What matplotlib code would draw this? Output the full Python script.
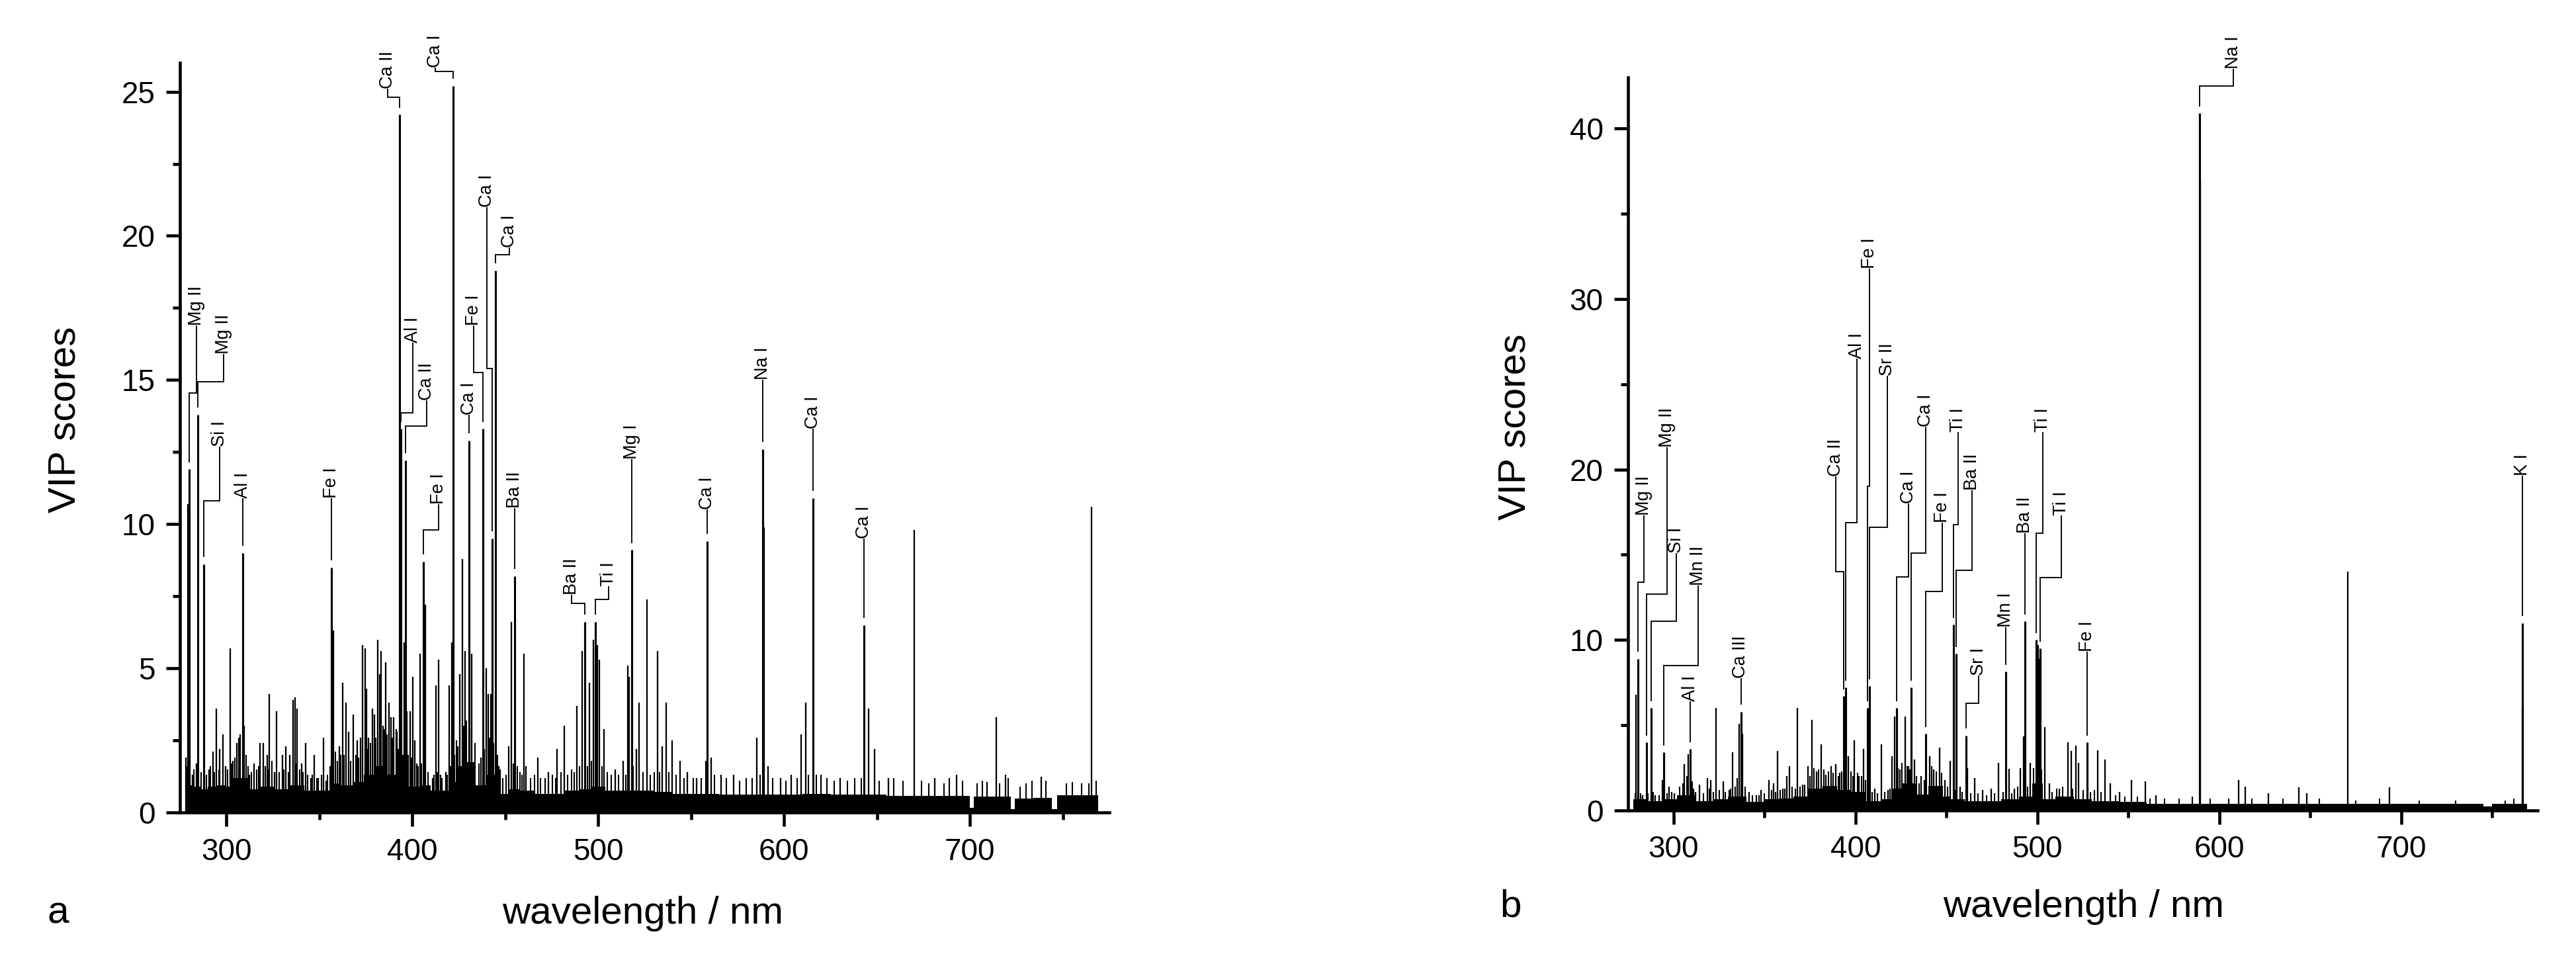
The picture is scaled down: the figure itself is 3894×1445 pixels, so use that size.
import numpy as np
import matplotlib
matplotlib.use('Agg')
import matplotlib.pyplot as plt
from matplotlib.ticker import MultipleLocator

plt.rcParams['font.family'] = ['Liberation Sans', 'DejaVu Sans']

# ---------------- panel a ----------------
# labelled lines: peak position / height, label position, elbow of the leader line
a_names = ['Mg II', 'Mg II', 'Si I', 'Al I', 'Fe I', 'Ca II', 'Al I', 'Ca II', 'Fe I', 'Ca I', 'Ca I',
           'Fe I', 'Ca I', 'Ca I', 'Ba II', 'Ba II', 'Ti I', 'Mg I', 'Ca I', 'Na I', 'Ca I', 'Ca I']
a_peak_nm = [280.0, 284.7, 287.9, 308.9, 356.5, 393.1, 394.0, 396.3, 405.8, 422.0, 430.4,
             438.0, 443.1, 444.9, 455.0, 492.9, 498.6, 518.1, 558.5, 588.4, 615.7, 643.0]
a_peak_vip = [11.9, 13.8, 8.6, 9.0, 8.5, 24.2, 13.3, 12.2, 8.7, 25.2, 12.9,
              13.3, 9.5, 18.8, 8.2, 6.6, 6.6, 9.1, 9.4, 12.6, 10.9, 6.5]
a_text_nm = [283.8, 298.4, 296.2, 308.9, 356.5, 386.8, 400.1, 407.7, 414.1, 412.2, 430.4,
             432.9, 440.2, 452.2, 455.0, 485.7, 505.6, 518.1, 558.5, 588.4, 615.7, 643.0]
a_text_vip = [16.9, 15.9, 12.7, 10.9, 10.9, 25.1, 16.3, 14.3, 10.7, 25.85, 13.8,
              16.9, 21.0, 19.6, 10.55, 7.55, 7.85, 12.25, 10.5, 15.0, 13.3, 9.5]
a_elbow_vip = [14.55, 14.95, 10.8, None, None, 24.8, 13.85, 13.4, 9.8, 25.7, None,
               15.25, 15.4, 19.35, None, 7.25, 7.4, None, None, None, None, None]

# other (unlabelled) emission lines
a_line_nm = [278.1, 279.1, 280.4, 281.9, 283.8, 290.8, 292.7, 294.6, 296.5, 298.1, 299.7, 301.9,
             303.5, 305.5, 306.8, 307.5, 309.6, 312.4, 315.0, 318.0, 319.8, 321.9, 323.2, 325.8,
             327.0, 330.0, 332.1, 334.0, 335.9, 336.8, 338.1, 340.4, 342.5, 345.5, 347.4, 349.3,
             352.1, 353.7, 357.5, 360.7, 362.4, 364.3, 365.8, 368.1, 370.3, 372.0, 373.2, 374.7,
             375.3, 376.6, 378.5, 379.8, 381.4, 382.3, 383.3, 384.2, 385.6, 387.4, 388.7, 390.0,
             391.2, 391.9, 395.7, 396.9, 398.8, 400.1, 401.4, 402.4, 404.2, 407.1, 410.9, 412.6,
             414.1, 416.0, 417.9, 419.8, 421.1, 424.3, 425.5, 426.8, 428.3, 431.9, 433.2, 437.0,
             439.8, 440.8, 442.3, 446.5, 447.1, 452.0, 453.2, 460.1, 461.1, 467.5, 473.2, 478.0,
             481.8, 488.6, 491.4, 495.4, 497.5, 499.5, 500.5, 503.2, 509.0, 513.6, 515.9, 516.8,
             520.6, 522.1, 526.3, 532.0, 534.3, 536.5, 539.9, 544.1, 548.0, 553.0, 560.8, 566.0,
             573.0, 585.2, 589.1, 591.5, 598.0, 604.0, 609.3, 611.5, 620.0, 630.0, 645.4, 648.7,
             656.0, 670.0, 681.0, 692.8, 709.1, 714.0, 719.1, 738.5, 765.4]
a_line_vip = [1.9, 10.7, 2.9, 1.3, 1.7, 1.5, 2.1, 3.6, 2.2, 2.7, 1.6, 5.7,
              1.8, 2.4, 2.6, 2.7, 3.0, 1.3, 1.7, 2.4, 2.4, 2.0, 4.1, 1.4,
              3.5, 2.0, 2.3, 2.0, 3.9, 4.0, 3.6, 1.7, 2.4, 1.2, 2.0, 1.2,
              2.6, 1.1, 6.3, 2.3, 4.5, 3.8, 2.8, 3.4, 2.5, 2.6, 5.8, 5.7,
              4.3, 2.6, 3.6, 3.4, 6.0, 4.8, 5.6, 3.0, 5.2, 3.8, 3.3, 3.3,
              2.9, 2.8, 5.9, 3.5, 3.5, 4.7, 2.5, 1.7, 5.5, 7.2, 1.2, 4.4,
              5.3, 1.2, 1.4, 4.4, 5.9, 2.3, 4.8, 8.8, 5.6, 5.5, 1.4, 1.9,
              5.0, 4.1, 4.1, 1.6, 1.5, 2.3, 6.6, 5.5, 1.6, 1.9, 1.4, 2.2,
              3.0, 3.7, 5.6, 4.5, 6.0, 5.8, 5.3, 2.9, 1.5, 1.8, 5.1, 4.7,
              2.2, 3.8, 7.4, 5.6, 2.3, 3.8, 2.5, 1.8, 1.4, 1.2, 1.9, 1.3,
              1.3, 2.6, 9.9, 1.6, 1.2, 1.3, 2.7, 3.8, 1.3, 1.2, 3.6, 2.2,
              1.2, 9.8, 1.2, 1.3, 1.05, 3.3, 1.3, 1.25, 10.6]

# small spikes sticking out of the noise floor
a_hair_nm = [278.8, 282.5, 286.5, 289.3, 291.5, 293.4, 296.0, 300.5, 302.8, 304.6, 310.5, 311.5,
             313.6, 316.2, 317.2, 320.8, 322.6, 324.5, 328.5, 331.0, 333.2, 337.3, 339.5, 341.2,
             343.8, 346.3, 348.5, 351.0, 354.5, 355.8, 358.8, 359.7, 361.3, 363.2, 366.8, 369.6,
             371.2, 376.0, 377.5, 380.5, 384.8, 386.3, 389.4, 392.5, 394.8, 397.6, 399.5, 403.2,
             405.0, 406.8, 408.5, 411.8, 413.3, 415.2, 418.6, 420.5, 422.8, 423.6, 427.5, 429.2,
             430.9, 433.8, 435.8, 438.8, 441.5, 443.8, 445.8, 448.5, 450.5, 454.2, 456.5, 457.8,
             459.0, 463.5, 465.8, 469.0, 471.5, 475.5, 477.0, 480.0, 483.5, 485.5, 487.0, 490.0,
             494.2, 496.5, 502.0, 505.0, 507.0, 511.0, 514.8, 518.9, 524.0, 528.0, 530.0, 533.0,
             538.0, 542.0, 546.0, 551.0, 555.5, 558.0, 562.5, 569.0, 576.0, 579.5, 583.0, 587.0,
             594.0, 601.0, 607.0, 613.0, 617.5, 623.0, 627.0, 634.0, 638.0, 641.5, 651.0, 659.0,
             664.0, 674.0, 678.0, 686.0, 689.0, 696.0, 704.0, 706.5, 716.0, 720.5, 727.0, 730.0,
             733.5, 741.0, 752.0, 755.0, 760.0, 764.0, 768.0]
a_hair_vip = [1.6, 1.5, 1.4, 1.3, 1.6, 1.4, 1.5, 1.5, 1.7, 1.9, 2.0, 1.6,
              1.4, 1.5, 1.6, 1.6, 1.5, 1.8, 1.4, 1.5, 1.4, 1.7, 1.5, 1.4,
              1.3, 1.3, 1.2, 1.3, 1.3, 1.6, 2.1, 1.8, 2.0, 2.0, 1.8, 2.0,
              1.9, 2.2, 2.4, 2.6, 2.9, 2.7, 2.6, 2.2, 2.0, 2.0, 1.9, 1.6,
              1.7, 1.6, 1.4, 1.3, 1.4, 1.3, 1.3, 1.6, 2.0, 2.5, 3.0, 3.2,
              2.8, 2.4, 1.7, 2.2, 2.6, 2.4, 2.0, 1.2, 1.3, 1.7, 1.6, 1.4,
              1.3, 1.2, 1.3, 1.2, 1.2, 1.3, 1.2, 1.4, 1.3, 1.5, 1.4, 1.6,
              1.6, 1.8, 1.6, 1.4, 1.3, 1.3, 1.3, 1.6, 1.4, 1.3, 1.4, 1.4,
              1.4, 1.3, 1.2, 1.2, 1.2, 1.8, 1.3, 1.2, 1.1, 1.2, 1.2, 1.3,
              1.2, 1.1, 1.2, 1.3, 1.3, 1.2, 1.1, 1.1, 1.2, 1.2, 1.1, 1.2,
              1.1, 1.1, 1.0, 1.0, 1.2, 1.1, 1.0, 1.1, 1.0, 1.2, 0.9, 1.0,
              1.1, 1.1, 1.0, 1.05, 1.0, 1.0, 1.1]

# dense noise floor, as steps
a_band_edges = [278, 282, 286, 290, 295, 300, 304, 312, 318, 326, 334, 342, 350, 356, 362, 368,
                374, 380, 386, 392, 398, 404, 410, 416, 420, 424, 428, 434, 440, 446, 452, 458,
                466, 474, 482, 490, 496, 504, 512, 520, 530, 540, 550, 565, 580, 595, 610, 625,
                640, 655, 670, 685, 700, 702, 712, 722, 724, 734, 744, 747, 757, 769]
a_band_vip = [0.95, 0.9, 0.8, 0.9, 0.95, 0.9, 1.2, 0.8, 0.9, 0.8, 0.95, 0.75, 0.75, 1.0, 0.95,
              1.05, 1.3, 1.6, 1.3, 1.2, 0.9, 0.95, 0.75, 0.75, 1.05, 1.6, 1.75, 0.95, 1.3, 0.65,
              0.8, 0.75, 0.65, 0.65, 0.75, 0.8, 0.9, 0.75, 0.75, 0.75, 0.72, 0.65, 0.65, 0.62, 0.62,
              0.62, 0.65, 0.62, 0.62, 0.58, 0.58, 0.58, 0.15, 0.55, 0.55, 0.12, 0.48, 0.5, 0.12,
              0.6, 0.6]

# ---------------- panel b ----------------
b_names = ['Mg II', 'Mg II', 'Si I', 'Mn II', 'Al I', 'Ca III', 'Ca II', 'Al I', 'Fe I', 'Sr II', 'Ca I',
           'Ca I', 'Fe I', 'Ti I', 'Ba II', 'Sr I', 'Mn I', 'Ba II', 'Ti I', 'Ti I', 'Fe I', 'Na I', 'K I']
b_peak_nm = [280.3, 285.1, 287.9, 294.8, 309.1, 337.0, 393.5, 394.8, 406.5, 407.8, 422.5,
             430.8, 438.6, 453.9, 455.2, 460.7, 482.8, 493.3, 499.2, 501.5, 527.4, 589.0, 766.5]
b_peak_vip = [8.9, 4.0, 6.0, 3.4, 3.6, 5.8, 6.7, 7.2, 6.0, 7.3, 6.0,
              7.2, 4.5, 10.9, 9.2, 4.4, 8.15, 11.1, 10.0, 9.5, 4.0, 40.9, 11.0]
b_text_nm = [283.8, 296.5, 301.7, 313.4, 309.1, 337.0, 389.0, 400.7, 407.8, 417.6, 429.2,
             438.6, 447.7, 456.5, 464.0, 467.6, 482.8, 493.3, 502.9, 513.3, 527.4, 607.6, 766.5]
b_text_vip = [17.3, 21.3, 15.1, 13.2, 6.4, 7.75, 19.6, 26.5, 31.8, 25.5, 18.0,
              22.5, 16.9, 22.2, 18.8, 7.9, 10.75, 16.25, 22.2, 17.3, 9.3, 43.5, 19.65]
b_elbow_vip = [13.4, 12.7, 11.1, 8.5, None, None, 14.0, 16.9, 19.0, 16.6, 13.7,
               15.1, 12.85, 16.75, 14.1, 6.3, None, None, 16.25, 13.65, None, 42.5, None]

b_line_nm = [279.5, 280.5, 283.0, 290.0, 294.0, 297.7, 300.6, 306.0, 308.0, 312.0, 314.4, 318.8,
             320.3, 323.4, 327.3, 330.8, 332.5, 336.2, 338.0, 341.6, 345.7, 348.1, 352.6, 355.1,
             357.2, 360.0, 362.2, 363.7, 368.2, 370.9, 374.0, 376.0, 378.7, 381.2, 383.8, 386.8,
             389.0, 391.5, 396.1, 399.4, 402.0, 404.6, 410.5, 414.3, 418.0, 420.1, 421.4, 424.5,
             427.3, 429.0, 432.5, 436.0, 440.9, 443.0, 446.1, 449.0, 452.0, 457.5, 461.7, 465.6,
             470.0, 474.5, 478.5, 484.3, 487.5, 490.5, 492.4, 496.1, 500.3, 500.9, 504.0, 506.7,
             512.0, 516.8, 518.5, 521.2, 522.6, 533.0, 537.1, 540.2, 545.0, 551.6, 559.3, 565.0,
             589.6, 610.7, 614.4, 627.0, 643.9, 648.0, 670.8, 693.6, 766.8]
b_line_vip = [6.8, 1.1, 0.9, 0.9, 1.8, 1.4, 1.0, 2.7, 3.3, 1.1, 1.5, 1.9,
              1.8, 6.0, 1.7, 1.2, 3.4, 5.1, 4.5, 1.1, 0.9, 1.2, 1.8, 1.6,
              3.5, 1.3, 2.0, 2.6, 6.0, 1.5, 2.6, 5.3, 2.3, 3.9, 2.1, 2.6,
              2.7, 2.2, 3.2, 4.1, 2.0, 3.6, 1.3, 3.9, 1.2, 3.2, 5.5, 2.4,
              5.5, 2.6, 3.0, 2.0, 3.2, 2.4, 3.7, 1.8, 2.9, 1.4, 2.5, 1.9,
              1.2, 1.3, 2.8, 2.45, 1.3, 2.5, 4.35, 2.8, 9.7, 8.9, 4.9, 1.6,
              1.3, 4.0, 3.5, 3.8, 2.8, 3.55, 3.0, 1.6, 1.1, 1.8, 1.7, 0.9,
              37.0, 1.8, 1.4, 1.0, 1.35, 1.0, 14.0, 1.35, 6.0]

b_hair_nm = [279.0, 282.0, 286.0, 288.8, 292.0, 296.5, 299.0, 303.5, 305.0, 307.2, 310.3, 311.0,
             316.5, 319.6, 322.0, 325.0, 328.5, 331.5, 334.0, 335.0, 339.5, 343.5, 347.0, 350.0,
             353.8, 356.0, 358.5, 361.2, 365.0, 367.0, 369.5, 372.0, 375.0, 377.2, 379.8, 382.5,
             385.2, 387.8, 390.5, 392.5, 397.5, 398.5, 401.0, 403.2, 405.5, 409.0, 412.0, 416.0,
             419.0, 423.5, 425.5, 428.5, 430.0, 433.5, 435.0, 438.0, 442.0, 444.5, 447.5, 450.5,
             454.5, 458.5, 463.5, 467.5, 472.0, 476.5, 481.0, 486.0, 489.0, 494.5, 498.0, 502.3,
             508.0, 510.5, 514.0, 519.5, 525.0, 529.0, 531.5, 535.0, 543.0, 548.0, 555.0, 562.0,
             570.0, 578.0, 585.0, 595.0, 605.0, 618.0, 635.0, 655.0, 675.0, 688.0, 710.0, 730.0,
             757.0, 762.0]
b_hair_vip = [1.0, 1.0, 1.0, 1.1, 0.9, 1.0, 1.1, 1.4, 1.6, 2.0, 1.7, 1.3,
              1.0, 1.3, 1.1, 1.2, 1.1, 1.3, 1.4, 1.9, 1.4, 0.9, 0.9, 1.0,
              1.2, 1.1, 1.2, 1.3, 1.4, 1.3, 1.4, 1.5, 2.0, 2.5, 2.4, 2.4,
              2.3, 2.2, 2.0, 2.3, 2.3, 2.0, 2.2, 2.0, 1.8, 1.1, 1.0, 1.1,
              1.3, 2.5, 2.8, 2.6, 2.4, 2.0, 1.6, 1.8, 2.6, 2.3, 2.2, 1.4,
              1.2, 1.1, 1.0, 1.0, 0.9, 1.0, 1.1, 1.0, 1.4, 1.4, 2.5, 2.4,
              1.1, 1.3, 1.4, 1.3, 1.2, 1.1, 1.2, 1.1, 0.9, 0.8, 0.8, 0.7,
              0.7, 0.7, 0.8, 0.7, 0.7, 0.7, 0.7, 0.7, 0.6, 0.7, 0.6, 0.6,
              0.6, 0.7]

b_band_edges = [278, 285, 295, 302, 312, 322, 330, 340, 350, 358, 366, 374, 382, 390, 398, 406,
                414, 420, 426, 434, 440, 448, 452, 460, 470, 480, 490, 497, 503, 510, 520, 530,
                545, 560, 588, 600, 650, 700, 745, 750, 769]
b_band_vip = [0.65, 0.55, 0.65, 0.9, 0.55, 0.65, 0.8, 0.5, 0.65, 0.7, 0.8, 1.3, 1.45, 1.2, 1.1,
              0.55, 0.65, 1.3, 1.6, 0.95, 1.45, 0.8, 0.65, 0.55, 0.55, 0.65, 0.8, 1.6, 0.65, 0.8,
              0.65, 0.55, 0.5, 0.4, 0.4, 0.4, 0.38, 0.38, 0.25, 0.38]

W, H = 3894, 1445


def draw_panel(ax, band_edges, band_vip, hair_nm, hair_vip, line_nm, line_vip,
               names, pk_nm, pk_vip, tx_nm, tx_vip, el_vip, gap):
    ax.stairs(band_vip, band_edges, fill=True, color='black', baseline=0, lw=0)
    ax.vlines(hair_nm, 0, hair_vip, color='black', lw=0.5)
    ax.vlines(line_nm, 0, line_vip, color='black', lw=0.55)
    ax.vlines(pk_nm, 0, pk_vip, color='black', lw=0.75)

    for name, pn, pv, tn, tv, ev in zip(names, pk_nm, pk_vip, tx_nm, tx_vip, el_vip):
        y0 = pv + gap
        if ev is None:
            xs, ys = [pn, pn], [y0, tv]
        else:
            xs, ys = [pn, pn, tn, tn], [y0, ev, ev, tv]
        ax.plot(xs, ys, color='black', lw=0.45, clip_on=False,
                solid_capstyle='butt', solid_joinstyle='miter')
        ax.text(tn, tv, name, rotation=90, ha='center', va='bottom', fontsize=6.5)

    ax.set_xlim(275, 775)
    ax.xaxis.set_major_locator(MultipleLocator(100))
    ax.xaxis.set_minor_locator(MultipleLocator(50))
    for s in ('top', 'right'):
        ax.spines[s].set_visible(False)
    for s in ('left', 'bottom'):
        ax.spines[s].set_linewidth(1.1)
    ax.tick_params(which='major', direction='out', length=5, width=1.1, labelsize=11, pad=4)
    ax.tick_params(which='minor', direction='out', length=2.6, width=1.1)


fig = plt.figure(figsize=(W / 300, H / 300), dpi=300)

ax_a = fig.add_axes([272 / W, 1 - 1228 / H, (1677 - 272) / W, (1228 - 95) / H])
draw_panel(ax_a, a_band_edges, a_band_vip, a_hair_nm, a_hair_vip, a_line_nm, a_line_vip,
           a_names, a_peak_nm, a_peak_vip, a_text_nm, a_text_vip, a_elbow_vip, 0.25)
ax_a.set_ylim(0, 26)
ax_a.yaxis.set_major_locator(MultipleLocator(5))
ax_a.yaxis.set_minor_locator(MultipleLocator(2.5))

ax_b = fig.add_axes([2461 / W, 1 - 1225 / H, (3836 - 2461) / W, (1225 - 117) / H])
draw_panel(ax_b, b_band_edges, b_band_vip, b_hair_nm, b_hair_vip, b_line_nm, b_line_vip,
           b_names, b_peak_nm, b_peak_vip, b_text_nm, b_text_vip, b_elbow_vip, 0.4)
ax_b.set_ylim(0, 43)
ax_b.yaxis.set_major_locator(MultipleLocator(10))
ax_b.yaxis.set_minor_locator(MultipleLocator(5))

# axis titles and panel letters
fig.text(99 / W, 1 - 634 / H, 'VIP scores', rotation=90, ha='center', va='center', fontsize=14)
fig.text(2291 / W, 1 - 645 / H, 'VIP scores', rotation=90, ha='center', va='center', fontsize=14)
fig.text(972 / W, 1 - 1396 / H, 'wavelength / nm', ha='center', va='baseline', fontsize=14)
fig.text(3150 / W, 1 - 1386 / H, 'wavelength / nm', ha='center', va='baseline', fontsize=14)
fig.text(72 / W, 1 - 1396 / H, 'a', ha='left', va='baseline', fontsize=14)
fig.text(2267 / W, 1 - 1386 / H, 'b', ha='left', va='baseline', fontsize=14)

fig.savefig('out.png', dpi=300)
